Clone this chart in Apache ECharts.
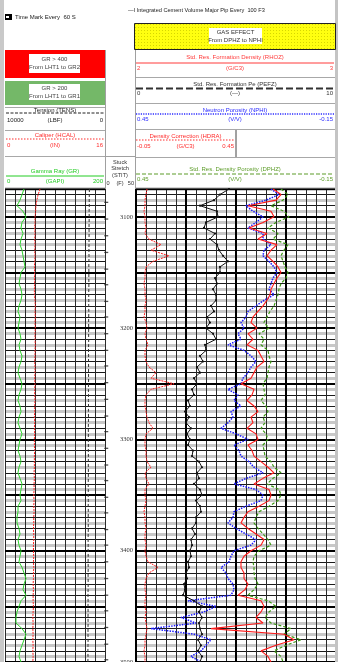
<!DOCTYPE html>
<html><head><meta charset="utf-8">
<script src="https://cdn.jsdelivr.net/npm/echarts@6/dist/echarts.min.js"></script>
<style>html,body{margin:0;padding:0;background:#fff;overflow:hidden}#c{width:338px;height:662px}</style>
</head><body><div id="c"></div><script>
// ---- depth index (ft) ----
const depths = [
3075,3080,3085,3090,3095,3100,3105,3110,3115,3120,
3125,3130,3135,3140,3145,3150,3155,3160,3165,3170,
3175,3180,3185,3190,3195,3200,3205,3210,3215,3220,
3225,3230,3235,3240,3245,3250,3255,3260,3265,3270,
3275,3280,3285,3290,3295,3300,3305,3310,3315,3320,
3325,3330,3335,3340,3345,3350,3355,3360,3365,3370,
3375,3380,3385,3390,3395,3400,3405,3410,3415,3420,
3425,3430,3435,3440,3445,3450,3455,3460,3465,3470,
3475,3480,3485,3490,3495,3500];
// Gamma Ray (GAPI)
const grVals = [
38,34,30,24,36,42,34,32,36,32,
30,34,36,38,40,32,30,28,32,34,
32,28,26,30,28,26,30,32,28,30,
34,32,28,26,30,34,32,28,26,30,
32,28,26,30,34,30,28,26,30,32,
28,26,30,34,32,30,32,26,26,24,
24,28,30,26,28,32,30,28,34,38,
42,38,36,42,32,28,24,22,22,34,
42,38,34,30,28,32];
// Caliper (IN)
const hcalVals = [
5.6,5.3,5.1,4.95,4.9,4.8,4.8,4.75,4.8,4.75,
4.8,4.75,4.8,4.75,4.7,4.75,4.7,4.75,4.7,4.7,
4.8,4.85,4.8,4.85,4.8,4.85,4.8,4.8,4.85,4.8,
4.8,4.75,4.8,4.8,4.75,4.8,4.75,4.75,4.8,4.75,
4.75,4.7,4.75,4.7,4.75,4.7,4.7,4.75,4.7,4.7,
4.7,4.65,4.7,4.65,4.65,4.6,4.65,4.6,4.65,4.6,
4.6,4.55,4.6,4.6,4.55,4.55,4.6,4.55,4.6,4.55,
4.55,4.5,4.55,4.5,4.5,4.55,4.5,4.45,4.5,4.45,
4.5,4.45,4.5,4.45,4.5,4.45];
// Tension (LBF)
const tensVals = [
1560,1570,1580,1570,1590,1580,1590,1600,1590,1600,
1600,1610,1600,1610,1620,1610,1620,1610,1620,1630,
1620,1630,1620,1630,1640,1630,1640,1630,1640,1650,
1640,1650,1640,1650,1640,1650,1660,1650,1660,1650,
1660,1650,1660,1670,1660,1670,1660,1670,1660,1670,
1670,1660,1670,1680,1670,1680,1670,1680,1670,1680,
1680,1670,1680,1690,1680,1690,1680,1690,1680,1690,
1690,1680,1690,1700,1690,1700,1690,1700,1690,1700,
1700,1690,1700,1710,1700,1710];
// Std. Res. Formation Density (G/C3)
const rhozVals = [
2.685,2.725,2.70,2.56,2.675,2.69,2.635,2.565,2.655,2.61,
2.705,2.675,2.655,2.685,2.71,2.725,2.705,2.69,2.675,2.67,
2.655,2.635,2.61,2.585,2.575,2.605,2.56,2.585,2.555,2.61,
2.625,2.64,2.605,2.59,2.575,2.525,2.59,2.58,2.555,2.59,
2.61,2.575,2.585,2.555,2.60,2.61,2.56,2.58,2.59,2.625,
2.66,2.69,2.635,2.59,2.665,2.675,2.665,2.615,2.56,2.54,
2.525,2.56,2.60,2.64,2.625,2.575,2.54,2.525,2.525,2.54,
2.54,2.56,2.545,2.51,2.625,2.64,2.625,2.60,2.635,2.375,
2.74,2.79,2.70,2.625,2.66,2.675];
// Std. Res. Formation Pe
const pefzVals = [
4.65,4.2,3.9,3.2,4.05,4.1,3.5,3.4,3.95,3.7,
4.05,4.15,4.35,4.6,4.2,4.2,3.95,4.05,3.85,4.0,
4.0,3.75,3.9,3.55,3.7,3.5,3.85,4.0,3.45,3.5,
3.2,3.35,3.05,3.2,2.9,3.05,2.8,2.9,2.6,2.7,
2.45,2.65,2.5,2.75,2.55,2.7,2.6,2.85,2.8,3.15,
3.3,3.05,3.15,2.9,3.2,3.3,3.0,3.2,3.25,3.0,
3.0,2.8,2.95,2.75,2.8,2.7,2.75,2.6,2.65,2.5,
2.55,2.4,2.45,2.35,2.9,3.3,3.15,3.3,3.15,3.2,
3.3,3.1,3.25,3.1,3.3,3.2];
// Neutron Porosity (V/V)
const nphiVals = [
0.045,0.021,0.06,0.12,0.099,0.069,0.09,0.114,0.069,0.069,
0.045,0.066,0.069,0.051,0.036,0.027,0.039,0.045,0.051,0.036,
0.066,0.09,0.114,0.12,0.135,0.126,0.144,0.135,0.174,0.126,
0.105,0.09,0.105,0.114,0.129,0.135,0.174,0.144,0.156,0.135,
0.165,0.159,0.174,0.195,0.15,0.114,0.156,0.141,0.135,0.111,
0.096,0.069,0.12,0.156,0.09,0.069,0.075,0.12,0.156,0.159,
0.174,0.15,0.12,0.09,0.105,0.156,0.165,0.171,0.195,0.18,
0.174,0.159,0.156,0.165,0.294,0.21,0.246,0.315,0.27,0.405,
0.276,0.225,0.24,0.255,0.285,0.255];
// Std. Res. Density Porosity (V/V)
const dphzVals = [
0.015,-0.006,0.009,0.045,0.006,-0.009,0.03,0.054,0.024,0.039,
-0.006,0.006,0.015,0.009,0.003,-0.006,0.0,0.015,0.021,0.024,
0.03,0.036,0.048,0.057,0.066,0.051,0.081,0.066,0.075,0.054,
0.051,0.045,0.051,0.054,0.057,0.069,0.066,0.063,0.075,0.06,
0.054,0.069,0.063,0.075,0.06,0.054,0.069,0.066,0.063,0.045,
0.036,0.015,0.039,0.057,0.021,0.015,0.024,0.051,0.081,0.09,
0.096,0.084,0.069,0.054,0.045,0.081,0.096,0.099,0.096,0.096,
0.093,0.084,0.096,0.114,0.054,0.03,0.051,0.063,0.045,-0.015,
0.006,-0.045,0.0,0.036,0.015,0.009];
// Density Correction (G/C3)
const hdraVals = [
0.005,0.0,-0.005,-0.005,-0.01,-0.005,-0.005,0.0,-0.005,0.015,
0.075,0.025,0.115,0.035,0.0,-0.005,-0.005,-0.01,-0.005,-0.005,
0.0,-0.005,-0.005,-0.01,0.0,0.005,-0.005,0.0,0.01,-0.005,
-0.005,0.0,0.015,0.05,0.025,0.14,0.025,0.0,-0.005,-0.005,
0.0,0.005,0.015,0.035,0.0,-0.005,-0.005,0.0,0.0,0.005,
0.025,-0.005,0.0,0.015,-0.005,-0.005,0.0,-0.005,-0.01,-0.005,
-0.005,0.0,-0.005,-0.005,0.0,-0.005,0.0,0.01,0.06,0.015,
0.0,-0.005,-0.005,0.0,-0.005,-0.005,0.0,-0.005,0.0,0.005,
0.0,-0.005,-0.005,-0.01,-0.005,-0.005];
// Time marks (depth, ft)
const timeMarks = [3087,3102,3117,3132,3147,3161,3176,3190,3205,3220,3234,3249,3264,3279,3293,3308,3323,3337,3352,3366,3381,3395,3410,3425,3440,3454,3469,3484,3498];
const depthTicks = [3100,3200,3300,3400,3500];

const pts = vals => vals.map((v,i)=>[v, depths[i]]);

const TOP = 189, H = 662-189;
const FF = '"Liberation Sans", Arial, sans-serif';

function T(x,y,s,fill,align,size,font){
  return {type:'text', x:x, y:y, z:10, style:{text:s, fill:fill||'#333', font:(size||6)+'px '+(font||FF), align:align||'center', verticalAlign:'middle'}};
}
function L(x1,y1,x2,y2,stroke,w,dash){
  return {type:'line', z:5, shape:{x1,y1,x2,y2}, style:{stroke:stroke||'#999', lineWidth:w||1, lineDash:dash||null}};
}
function R(x,y,w,h,fill,stroke,lw){
  return {type:'rect', z:4, shape:{x,y,width:w,height:h}, style:{fill:fill, stroke:stroke||null, lineWidth:lw||0}};
}
// yellow dotted pattern
const pc = document.createElement('canvas'); pc.width=3; pc.height=3;
const pctx = pc.getContext('2d'); pctx.fillStyle='#ffff10'; pctx.fillRect(0,0,3,3);
pctx.fillStyle='#d6d600'; pctx.fillRect(0,0,1,1);

function scaleHeader(x0,x1,yTitle,yLine,yNum,title,unit,lo,hi,color,dash,lw){
  const c=(x0+x1)/2;
  return [
    L(x0+1,yLine,x1-1,yLine,color,lw||1,dash),
    T(c,yTitle,title,color),
    T(x0+2,yNum,lo,color,'left'),
    T(c,yNum,unit,color),
    T(x1-2,yNum,hi,color,'right')
  ];
}

const graphics = [].concat(
  [R(0,0,4,662,'#c9c9c9'), R(335,0,3,662,'#c4c4c4')],
  [R(5,14,7,6,'#000'), R(6,16,3,2,'#fff'), T(15,17,'Time Mark Every  60 S','#222','left',6)],
  [T(128,10,'\u2014I Integrated Cement Volume Major Pip Every  100 F3','#222','left',5.6)],
  // gas effect
  [{type:'rect', z:4, shape:{x:134.5,y:23.5,width:201,height:26}, style:{fill:{image:pc, repeat:'repeat'}, stroke:'#222', lineWidth:1}},
   R(209,28,53,16,'#fff'), T(235.5,32.5,'GAS EFFECT','#333'), T(235.5,40,'From DPHZ to NPHI','#333')],
  // GR boxes
  [R(5,50,100,28,'#ff0000'), R(29,54,51,19,'#fff'), T(54.5,59,'GR > 400','#444'), T(54.5,67.5,'From LHT1 to GR2','#444'),
   R(5,81,100,24,'#74b868'), R(29,84,51,16,'#fff'), T(54.5,88,'GR > 200','#444'), T(54.5,96,'From LHT1 to GR1','#444')],
  // separators
  [L(5,107.5,105,107.5,'#a8a8a8'), L(5,130.5,105,130.5,'#a8a8a8'), L(5,156.5,105,156.5,'#a8a8a8'), L(5,188,105,188,'#a8a8a8'),
   L(135,77.5,335,77.5,'#a8a8a8'), L(135,103.5,335,103.5,'#a8a8a8'), L(135,129.5,335,129.5,'#a8a8a8'), L(135,157.5,335,157.5,'#a8a8a8'),L(135,188,335,188,'#a8a8a8'),
   L(105.5,50,105.5,189,'#a0a0a0'), L(135.5,50,135.5,189,'#a0a0a0'), L(236,130,236,157,'#444'),
   L(104.5,156.5,135.5,156.5,'#a0a0a0')],
  scaleHeader(5,105,110,113,120,'Tension (TENS)','(LBF)','10000','0','#222',[3,1.5],1),
  scaleHeader(5,105,135,139,145,'Caliper (HCAL)','(IN)','0','16','#ff2a2a',[1.5,1.5],1),
  scaleHeader(5,105,171,176,181,'Gamma Ray (GR)','(GAPI)','0','200','#22cc22',null,1),
  scaleHeader(135,335,57,63,68,'Std. Res. Formation Density (RHOZ)','(G/C3)','2','3','#ff3a3a',null,1),
  scaleHeader(135,335,84,88.5,93,'Std. Res. Formation Pe (PEFZ)','(---)','0','10','#333',[7,3],2),
  scaleHeader(135,335,110.5,114,119,'Neutron Porosity (NPHI)','(V/V)','0.45','-0.15','#2b2bff',[1.2,1.2],1.5),
  scaleHeader(135,236,136,140,146,'Density Correction (HDRA)','(G/C3)','-0.05','0.45','#ff2a2a',[1.5,1.5],1),
  scaleHeader(135,335,169,174,179,'Std. Res. Density Porosity (DPHZ)','(V/V)','0.45','-0.15','#5c9c28',[4,2],1.2),
  [T(120,162,'Stuck','#333','center',5.6), T(120,168.5,'Stretch','#333','center',5.6), T(120,175.5,'(STIT)','#333','center',5.6),
   T(106.5,183.5,'0','#333','left',5.6), T(120,183.5,'(F)','#333','center',5.6), T(134,183.5,'50','#333','right',5.6)]
);

const hid = o => Object.assign({type:'value', show:false}, o);
const gridAx = (o, color, w) => Object.assign({type:'value', show:true, axisLine:{show:false}, axisTick:{show:false}, axisLabel:{show:false},
  splitLine:{show:true, lineStyle:{color:color, width:w}}}, o);

const option = {
  animation:false,
  backgroundColor:'#fff',
  grid:[
    {left:5, top:TOP, width:100, height:H, outerBoundsMode:'none', containLabel:false},
    {left:105, top:TOP, width:31, height:H, outerBoundsMode:'none', containLabel:false},
    {left:136, top:TOP, width:200, height:H, outerBoundsMode:'none', containLabel:false}
  ],
  xAxis:[
    gridAx({gridIndex:0, min:0, max:10, interval:1, z:1}, '#2a2a2a', 1),      //0
    hid({gridIndex:0, min:0, max:200}),                                       //1 GR
    hid({gridIndex:0, min:0, max:16}),                                        //2 HCAL
    hid({gridIndex:0, min:0, max:10000, inverse:true}),                       //3 TENS
    hid({gridIndex:1, min:0, max:50}),                                        //4 STIT
    gridAx({gridIndex:2, min:0, max:20, interval:1, z:1}, '#2a2a2a', 1),      //5
    gridAx({gridIndex:2, min:0, max:4, interval:1, z:2}, '#000', 2),          //6
    hid({gridIndex:2, min:2, max:3}),                                         //7 RHOZ
    hid({gridIndex:2, min:0, max:10}),                                        //8 PEFZ
    hid({gridIndex:2, min:-0.15, max:0.45, inverse:true}),                    //9 NPHI
    hid({gridIndex:2, min:-0.15, max:0.45, inverse:true}),                    //10 DPHZ
    hid({gridIndex:2, min:-0.05, max:0.95})                                   //11 HDRA
  ],
  yAxis:[
    gridAx({gridIndex:0, min:3075, max:3500, interval:10, inverse:true, z:0}, '#c8c8c8', 3), //0
    gridAx({gridIndex:0, min:0, max:425, interval:10, z:1}, '#1a1a1a', 1),                   //1
    gridAx({gridIndex:0, min:0, max:425, interval:50, z:2}, '#000', 2),                      //2
    {type:'value', gridIndex:1, min:3075, max:3500, interval:25, inverse:true, position:'right',
      axisLine:{show:false}, axisTick:{show:false}, splitLine:{show:false},
      axisLabel:{show:true, inside:true, margin:3, fontSize:6.5, color:'#333', fontFamily:'"Liberation Serif", serif',
        formatter: v => depthTicks.indexOf(v) >= 0 ? String(v) : ''}},                       //3
    gridAx({gridIndex:2, min:3075, max:3500, interval:10, inverse:true, z:0}, '#c8c8c8', 3), //4
    gridAx({gridIndex:2, min:0, max:425, interval:10, z:1}, '#1a1a1a', 1),                   //5
    gridAx({gridIndex:2, min:0, max:425, interval:50, z:2}, '#000', 2)                       //6
  ],
  graphic: graphics,
  series:[
    {type:'line', xAxisIndex:3, yAxisIndex:0, data:pts(tensVals), symbol:'none', z:3,
      lineStyle:{color:'#333', width:1, type:[3,2]}},
    {type:'line', xAxisIndex:2, yAxisIndex:0, data:pts(hcalVals), symbol:'none', z:3,
      lineStyle:{color:'#ff2020', width:1, type:[2,1]}},
    {type:'line', xAxisIndex:1, yAxisIndex:0, data:pts(grVals), symbol:'none', z:4,
      lineStyle:{color:'#2ed42e', width:1}},
    {type:'scatter', xAxisIndex:4, yAxisIndex:3, data:timeMarks.map(d=>[2,d]), symbol:'rect', symbolSize:[4,1.3], z:3,
      itemStyle:{color:'#222'}},
    {type:'line', xAxisIndex:11, yAxisIndex:4, data:pts(hdraVals), symbol:'none', z:3,
      lineStyle:{color:'#ff2020', width:1, type:[2,1]}},
    {type:'line', xAxisIndex:9, yAxisIndex:4, data:pts(nphiVals), symbol:'none', z:3,
      lineStyle:{color:'#1a1aff', width:1.5, type:[1.5,1.2]}},
    {type:'line', xAxisIndex:10, yAxisIndex:4, data:pts(dphzVals), symbol:'none', z:4,
      lineStyle:{color:'#3d9a14', width:1.2, type:[3,2]}},
    {type:'line', xAxisIndex:7, yAxisIndex:4, data:pts(rhozVals), symbol:'none', z:5,
      lineStyle:{color:'#ff1a1a', width:1.1}},
    {type:'line', xAxisIndex:8, yAxisIndex:4, data:pts(pefzVals), symbol:'circle', symbolSize:2.2, showSymbol:true, z:5,
      itemStyle:{color:'#111'}, lineStyle:{color:'#111', width:1}}
  ]
};
const chart = echarts.init(document.getElementById('c'), null, {renderer:'canvas'});
chart.setOption(option);
</script></body></html>
